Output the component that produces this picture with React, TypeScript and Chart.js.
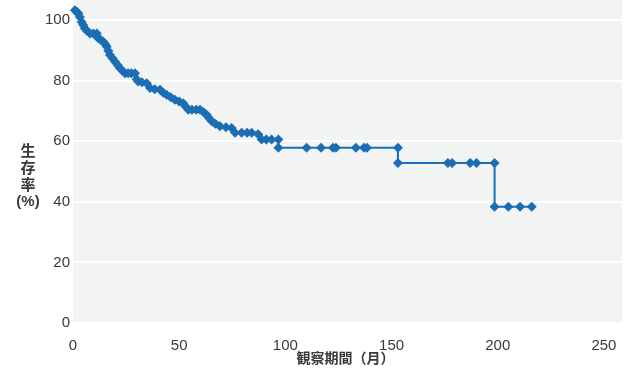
import React, { useEffect, useRef } from 'react';
import { Chart, registerables } from 'chart.js';

Chart.register(...registerables);

// Observation period (months)
const months = [
  0.9, 1.8, 2.5, 3.2, 4.1, 4.8, 5.6, 6.5, 8, 9.5, 11.2, 11.9, 13, 14.3, 15.2, 15.9, 16.7, 17.4,
  18.6, 19.8, 21, 22.1, 23.3, 24.5, 26, 27.5, 29.2, 30, 30.7, 32.5, 34.7, 36.3, 38.5, 41, 42.5,
  44.1, 46, 48, 50, 51.9, 53, 54.3, 56, 58, 59.8, 61.5, 62.9, 64, 65.3, 67, 69.2, 72, 74.7, 76.3,
  79.4, 82, 84.1, 87.2, 88.8, 91, 93.5, 96.7, 96.7, 110, 116.8, 122.4, 123.8, 133.2, 137, 138.4,
  153, 153, 176.5, 178.5, 187, 190, 198.5, 198.5, 205, 210.5, 216,
];
// Survival rate (%)
const survival = [
  103.3, 102.8, 102.2, 101, 99.4, 98.4, 97.2, 96.5, 95.6, 95.6, 95.6, 94, 93.5, 92.9, 92, 91.2,
  89.8, 88.5, 87.4, 86.3, 85.2, 84.1, 83.3, 82.5, 82.5, 82.5, 82.5, 80.5, 79.7, 79.5, 79.2, 77.6,
  77.2, 77, 76, 75.4, 74.5, 73.7, 73.1, 72.6, 71.5, 70.4, 70.4, 70.4, 70.4, 69.6, 68.8, 67.7,
  66.6, 65.8, 65, 64.6, 64.4, 62.8, 62.8, 62.8, 62.8, 62.3, 60.6, 60.6, 60.6, 60.6, 57.9, 57.9,
  57.9, 57.9, 57.9, 57.9, 57.9, 57.9, 57.9, 52.8, 52.8, 52.8, 52.8, 52.8, 52.8, 38.4, 38.4, 38.4,
  38.4,
];
const xTicks = [0, 50, 100, 150, 200, 250];
const yTicks = [0, 20, 40, 60, 80, 100];
const yTitleLines = ['生', '存', '率', '(%)'];
const xTitle = '観察期間（月）';

const BLUE = '#1b6db4';
const BG = '#f2f4f4';
const TEXT = '#3a3a3a';

const decorPlugin = {
  id: 'decor',
  beforeDraw(chart: any) {
    const { ctx, chartArea } = chart;
    ctx.save();
    ctx.fillStyle = BG;
    ctx.fillRect(chartArea.left, 0, chartArea.right - chartArea.left, chartArea.bottom);
    ctx.restore();
  },
  afterDraw(chart: any) {
    const { ctx, chartArea } = chart;
    ctx.save();
    ctx.fillStyle = TEXT;
    ctx.textAlign = 'center';
    ctx.textBaseline = 'middle';
    ctx.font = 'bold 15px "Noto Sans CJK JP", sans-serif';
    const cx = 28;
    const startY = 150;
    const step = 17;
    yTitleLines.forEach((t, i) => {
      if (t === '(%)') ctx.font = 'bold 15px "Liberation Sans", Arial, sans-serif';
      ctx.fillText(t, cx, startY + i * step + (t === '(%)' ? 1 : 0));
    });
    ctx.font = 'bold 14px "Noto Sans CJK JP", sans-serif';
    ctx.fillText(xTitle, (chartArea.left + chartArea.right) / 2 - 2, 358);
    ctx.restore();
  },
};

export default function App() {
  const ref = useRef<HTMLCanvasElement | null>(null);
  useEffect(() => {
    document.body.style.margin = '0';
    if (!ref.current) return;
    const data = months.map((m, i) => ({ x: m, y: survival[i] }));
    const chart = new Chart(ref.current, {
      type: 'line',
      data: {
        datasets: [
          {
            data,
            borderColor: BLUE,
            backgroundColor: BLUE,
            borderWidth: 2,
            stepped: 'before',
            pointStyle: 'rectRot',
            pointRadius: 5,
            pointBackgroundColor: BLUE,
            pointBorderColor: BLUE,
            pointBorderWidth: 0,
            fill: false,
            clip: false,
          },
        ],
      },
      options: {
        animation: false,
        responsive: true,
        maintainAspectRatio: false,
        layout: { padding: { left: 0, right: 14, top: 0, bottom: 0 } },
        plugins: { legend: { display: false }, tooltip: { enabled: false }, title: { display: false } },
        scales: {
          x: {
            type: 'linear',
            min: 0,
            max: 258.5,
            afterBuildTicks: (s: any) => {
              s.ticks = xTicks.map((v) => ({ value: v }));
            },
            afterFit: (s: any) => {
              s.height = 51;
              s.paddingLeft = 0;
              s.paddingRight = 0;
            },
            grid: { display: false },
            border: { display: false },
            ticks: {
              padding: 6,
              maxRotation: 0,
              autoSkip: false,
              color: TEXT,
              font: { family: '"Liberation Sans", Arial, sans-serif', size: 15 },
            },
          },
          y: {
            type: 'linear',
            min: 0,
            max: 105,
            afterBuildTicks: (s: any) => {
              s.ticks = yTicks.map((v) => ({ value: v }));
            },
            afterFit: (s: any) => {
              s.width = 73;
              s.paddingTop = 0;
              s.paddingBottom = 0;
            },
            grid: { color: '#ffffff', lineWidth: 2, drawTicks: false },
            border: { display: false },
            ticks: {
              padding: 3,
              color: TEXT,
              font: { family: '"Liberation Sans", Arial, sans-serif', size: 15 },
            },
          },
        },
      },
      plugins: [decorPlugin],
    } as any);
    return () => chart.destroy();
  }, []);
  return (
    <div style={{ position: 'relative', width: 636, height: 374 }}>
      <canvas ref={ref} />
    </div>
  );
}
